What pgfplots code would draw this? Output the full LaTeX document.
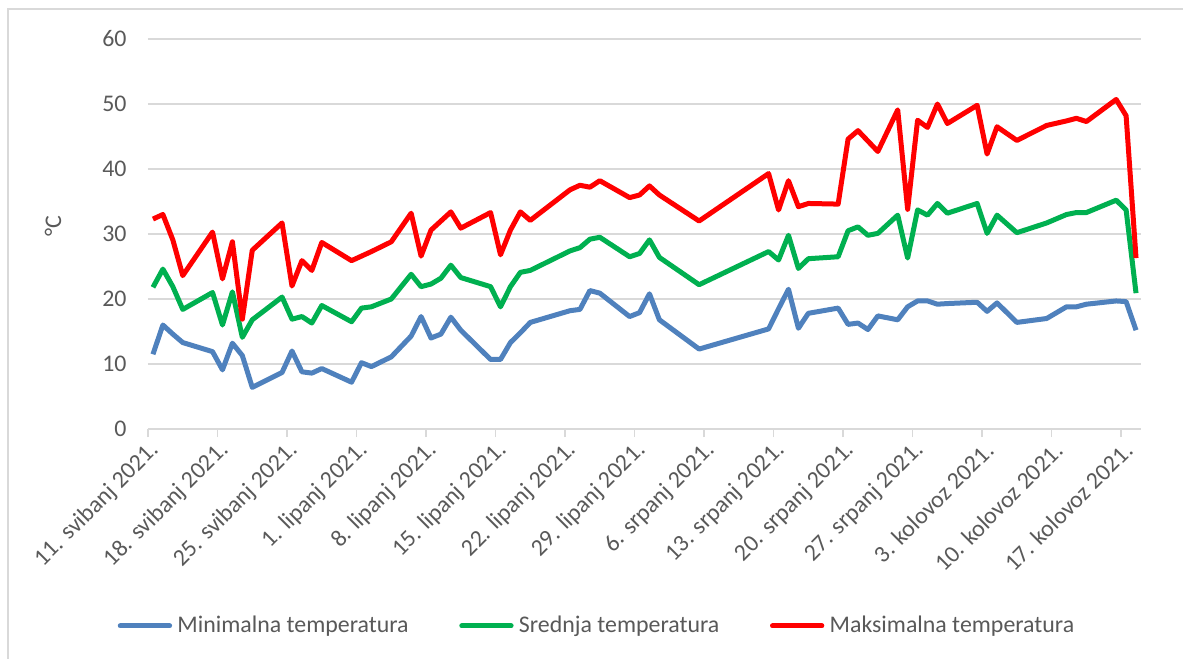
\documentclass[border=0pt]{standalone}
\usepackage{pgfplots}
\usepackage{pgfplotstable}
\pgfplotsset{compat=1.18}
\usepackage{fontspec}
\setmainfont{Carlito}
\definecolor{txt}{HTML}{595959}
\definecolor{gridc}{HTML}{D9D9D9}
\definecolor{cmin}{HTML}{4F81BD}
\definecolor{cmean}{HTML}{00B050}
\definecolor{cmax}{HTML}{FF0000}

\pgfplotstableread{
day  tmin tmean tmax
0.5  11.5 21.8 32.3
1.5  16.0 24.6 33.0
2.5  14.6 21.9 29.1
3.5  13.3 18.4 23.6
6.5  11.9 21.0 30.3
7.5  9.1  16.0 23.1
8.5  13.2 21.1 28.8
9.5  11.3 14.1 16.9
10.5 6.4  16.8 27.5
13.5 8.7  20.3 31.7
14.5 12.0 16.9 22.0
15.5 8.8  17.3 25.9
16.5 8.6  16.3 24.4
17.5 9.3  19.0 28.7
20.5 7.2  16.5 25.9
21.5 10.2 18.6 26.6
22.5 9.6  18.8 27.3
24.5 11.1 20.0 28.8
26.5 14.3 23.8 33.2
27.5 17.3 21.9 26.6
28.5 14.0 22.3 30.6
29.5 14.6 23.2 32.0
30.5 17.2 25.2 33.4
31.5 15.2 23.3 30.9
34.5 10.7 21.9 33.3
35.5 10.7 18.8 26.8
36.5 13.3 21.9 30.6
37.5 14.8 24.1 33.4
38.5 16.4 24.4 32.1
42.5 18.2 27.4 36.8
43.5 18.4 27.9 37.5
44.5 21.3 29.2 37.2
45.5 20.9 29.5 38.2
48.5 17.3 26.5 35.6
49.5 17.9 27.0 36.0
50.5 20.8 29.1 37.4
51.5 16.8 26.4 36.0
55.5 12.3 22.2 32.0
62.5 15.4 27.3 39.3
63.5 18.5 26.0 33.7
64.5 21.5 29.8 38.2
65.5 15.5 24.7 34.2
66.5 17.8 26.2 34.7
69.5 18.6 26.5 34.6
70.5 16.1 30.5 44.6
71.5 16.3 31.1 45.9
72.5 15.3 29.8 44.3
73.5 17.4 30.1 42.7
75.5 16.8 32.9 49.1
76.5 18.8 26.3 33.8
77.5 19.7 33.7 47.5
78.5 19.7 32.9 46.4
79.5 19.2 34.7 50.0
80.5 19.3 33.2 47.0
83.5 19.5 34.7 49.8
84.5 18.1 30.1 42.3
85.5 19.4 32.9 46.5
87.5 16.4 30.2 44.4
90.5 17.0 31.7 46.7
92.5 18.8 33.0 47.4
93.5 18.8 33.3 47.8
94.5 19.2 33.3 47.3
97.5 19.7 35.2 50.7
98.5 19.6 33.7 48.2
99.5 15.2 20.9 26.3
}\data

\begin{document}
\fontsize{17.9}{21}\selectfont
\begin{tikzpicture}
\useasboundingbox (0,0) rectangle (887.25pt,493.5pt);
\draw[gridc, line width=1.2pt] (6pt,-2pt) -- (6pt,486.6pt) -- (890pt,486.6pt);
\begin{axis}[
  at={(111pt,171.75pt)}, anchor=south west,
  scale only axis, width=744.75pt, height=292.5pt,
  xmin=0, xmax=100, ymin=0, ymax=60,
  xtick={0,7,...,98},
  xticklabels={11. svibanj 2021.,18. svibanj 2021.,25. svibanj 2021.,1. lipanj 2021.,8. lipanj 2021.,15. lipanj 2021.,22. lipanj 2021.,29. lipanj 2021.,6. srpanj 2021.,13. srpanj 2021.,20. srpanj 2021.,27. srpanj 2021.,3. kolovoz 2021.,10. kolovoz 2021.,17. kolovoz 2021.},
  ytick={0,10,...,60},
  axis x line*=bottom, axis y line*=left,
  x axis line style={draw=gridc, line width=1.2pt, -},
  y axis line style={draw=none},
  tick align=outside, major tick length=6pt,
  xtick style={draw=gridc, line width=1.2pt},
  ytick style={draw=none},
  ymajorgrids, grid style={draw=gridc, line width=1.2pt},
  tick label style={text=txt, font=\fontsize{17.9}{21}\selectfont},
  /pgf/number format/assume math mode=true,
  xticklabel style={rotate=45, anchor=east, yshift=-9pt, xshift=5pt},
  yticklabel style={xshift=-4pt},
  ylabel={°C}, ylabel style={text=txt, font=\fontsize{17.9}{21}\selectfont, at={(axis description cs:-0.0957,0.52)}, anchor=center},
  legend columns=3,
  legend style={draw=none, fill=none, at={(axis description cs:0.4525,-0.505)}, anchor=center,
    font=\fontsize{17.9}{21}\selectfont, text=txt,
    /tikz/every odd column/.append style={column sep=2pt},
    /tikz/every even column/.append style={column sep=36pt},
    inner xsep=0pt},
  legend cell align=left,
  legend image code/.code={\draw[#1, line width=3.75pt, line cap=round] (2pt,0pt) -- (39pt,0pt);},
  every axis plot/.append style={line width=3.75pt, line join=round, mark=none},
]
\addplot[cmin] table[x=day, y=tmin] {\data};
\addlegendentry{Minimalna temperatura}
\addplot[cmean] table[x=day, y=tmean] {\data};
\addlegendentry{Srednja temperatura}
\addplot[cmax] table[x=day, y=tmax] {\data};
\addlegendentry{Maksimalna temperatura}
\end{axis}
\end{tikzpicture}
\end{document}
